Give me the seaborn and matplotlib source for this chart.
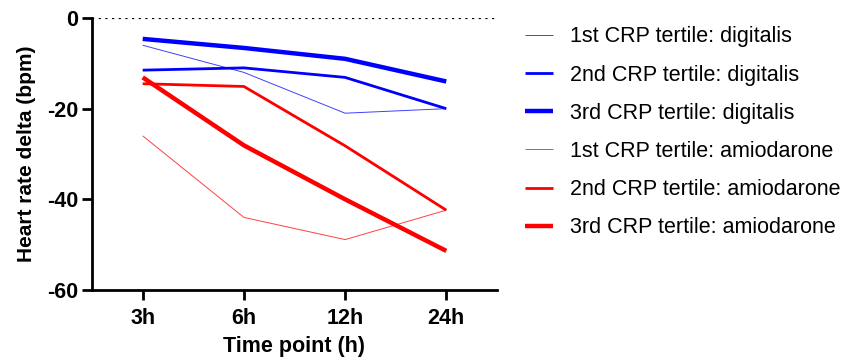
import matplotlib
matplotlib.use("Agg")
import matplotlib.pyplot as plt
import seaborn as sns
import pandas as pd

time_points = ["3h", "6h", "12h", "24h"]

series_labels = [
    "1st CRP tertile: digitalis",
    "2nd CRP tertile: digitalis",
    "3rd CRP tertile: digitalis",
    "1st CRP tertile: amiodarone",
    "2nd CRP tertile: amiodarone",
    "3rd CRP tertile: amiodarone",
]

dig_t1 = [-6.0, -12.0, -21.0, -20.0]
dig_t2 = [-11.5, -11.0, -13.1, -20.0]
dig_t3 = [-4.6, -6.6, -9.0, -14.0]
ami_t1 = [-26.0, -44.0, -48.9, -42.4]
ami_t2 = [-14.5, -15.1, -28.2, -42.4]
ami_t3 = [-13.1, -28.1, -40.0, -51.4]

series_values = [dig_t1, dig_t2, dig_t3, ami_t1, ami_t2, ami_t3]
series_colors = ["#0000FF"] * 3 + ["#FF0000"] * 3
series_widths = [0.7, 2.0, 3.2, 0.7, 2.0, 3.2]
series_alpha = [0.75, 1.0, 1.0, 0.75, 1.0, 1.0]

rows = []
for lab, vals in zip(series_labels, series_values):
    for i, (t, v) in enumerate(zip(time_points, vals)):
        rows.append({"series": lab, "pos": i, "time": t, "delta": v})
df = pd.DataFrame(rows)

sns.set_style("ticks")
plt.rcParams["font.family"] = ["Liberation Sans", "DejaVu Sans"]
plt.rcParams["text.color"] = "black"
plt.rcParams["axes.labelcolor"] = "black"
plt.rcParams["xtick.color"] = "black"
plt.rcParams["ytick.color"] = "black"

fig = plt.figure(figsize=(8.45, 3.61), dpi=100)
ax = fig.add_axes([0.109, 0.197, 0.479, 0.753])

for lab, col, lw, a in zip(series_labels, series_colors, series_widths, series_alpha):
    sns.lineplot(data=df[df["series"] == lab], x="pos", y="delta", ax=ax,
                 color=col, linewidth=lw, alpha=a, label=lab,
                 solid_capstyle="butt", solid_joinstyle="round")

ax.axhline(0, color="black", linestyle=(0, (1, 2.0)), linewidth=1.6, zorder=0)

ax.set_xlim(-0.5, 3.5)
ax.set_ylim(-60, 0)
ax.set_xticks(range(len(time_points)))
ax.set_xticklabels(time_points)
ax.set_yticks([-60, -40, -20, 0])
ax.set_yticklabels(["-60", "-40", "-20", "0"])

for side in ["top", "right"]:
    ax.spines[side].set_visible(False)
for side in ["left", "bottom"]:
    ax.spines[side].set_linewidth(2.0)
    ax.spines[side].set_color("black")

ax.tick_params(axis="x", length=7, width=2.0, pad=6, labelsize=15.5)
ax.tick_params(axis="y", length=7, width=2.0, pad=3, labelsize=15.5)
for lbl in ax.get_xticklabels() + ax.get_yticklabels():
    lbl.set_fontweight("bold")

ax.set_xlabel("Time point (h)", fontsize=15.5, fontweight="bold", labelpad=5)
ax.set_ylabel("Heart rate delta (bpm)", fontsize=15, fontweight="bold", labelpad=8)

leg = ax.legend(loc="upper left", bbox_to_anchor=(0.621, 0.927),
                bbox_transform=fig.transFigure, frameon=False,
                fontsize=15.5, handlelength=1.3, handletextpad=0.8,
                labelspacing=0.8, borderaxespad=0.0, borderpad=0.0)

fig.savefig("out.png", dpi=100)
